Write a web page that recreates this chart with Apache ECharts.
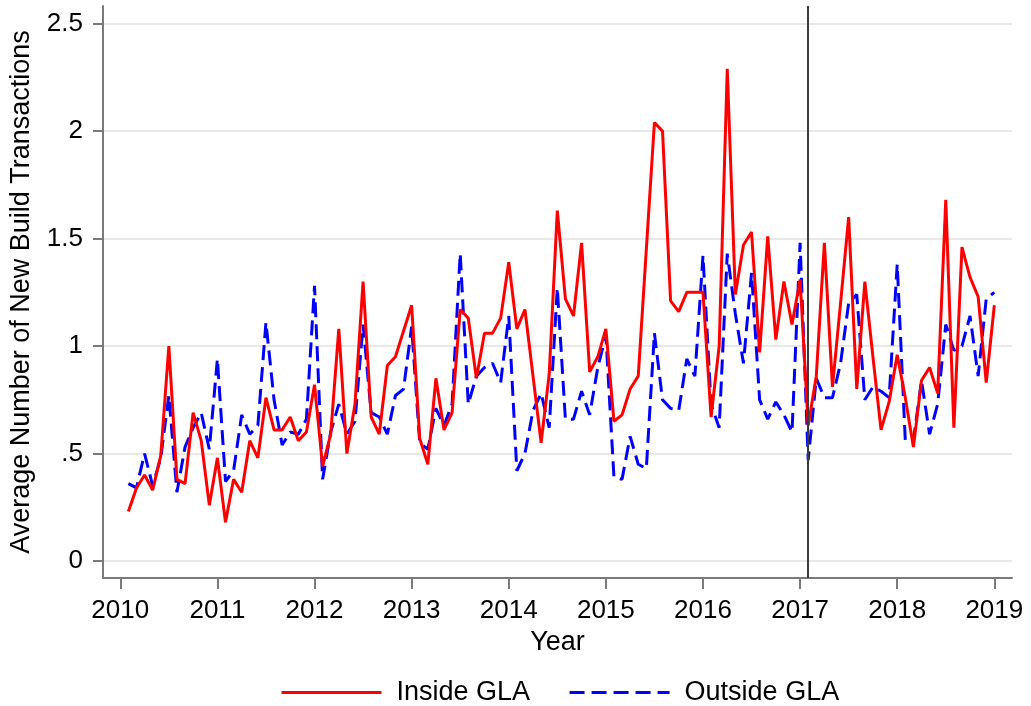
<!DOCTYPE html>
<html>
<head>
<meta charset="utf-8">
<title>New build transactions</title>
<script src="https://cdn.jsdelivr.net/npm/echarts@6/dist/echarts.min.js"></script>
<style>
  html, body { margin: 0; padding: 0; background: #fff; }
  #chart { width: 1031px; height: 706px; }
</style>
</head>
<body>
<div id="chart"></div>
<script>
// monthly series, first month is Feb 2010
const startYear = 2010
const startMonth = 2

const insideGLA = [
  0.23, 0.34, 0.40, 0.33, 0.49, 1.00, 0.38, 0.36, 0.69, 0.56, 0.26,
  0.48, 0.18, 0.38, 0.32, 0.56, 0.48, 0.76, 0.61, 0.61, 0.67, 0.56, 0.60,
  0.82, 0.44, 0.59, 1.08, 0.50, 0.73, 1.30, 0.67, 0.59, 0.91, 0.95, 1.07,
  1.19, 0.57, 0.45, 0.85, 0.61, 0.69, 1.17, 1.13, 0.85, 1.06, 1.06, 1.13,
  1.39, 1.08, 1.17, 0.86, 0.55, 0.87, 1.63, 1.22, 1.14, 1.48, 0.88, 0.95,
  1.08, 0.65, 0.68, 0.80, 0.86, 1.45, 2.04, 2.00, 1.21, 1.16, 1.25, 1.25,
  1.25, 0.67, 1.00, 2.29, 1.24, 1.47, 1.53, 0.97, 1.51, 1.03, 1.30, 1.10,
  1.31, 0.63, 0.86, 1.48, 0.81, 1.20, 1.60, 0.80, 1.30, 0.95, 0.61, 0.74,
  0.96, 0.76, 0.53, 0.84, 0.90, 0.78, 1.68, 0.62, 1.46, 1.32, 1.23, 0.83,
  1.19
]

const outsideGLA = [
  0.36, 0.34, 0.50, 0.35, 0.48, 0.77, 0.32, 0.53, 0.62, 0.69, 0.52,
  0.94, 0.37, 0.42, 0.68, 0.59, 0.63, 1.11, 0.75, 0.54, 0.60, 0.59, 0.66,
  1.28, 0.38, 0.60, 0.73, 0.59, 0.65, 1.10, 0.69, 0.67, 0.59, 0.77, 0.80,
  1.09, 0.55, 0.52, 0.71, 0.63, 0.73, 1.43, 0.73, 0.86, 0.90, 0.92, 0.83,
  1.14, 0.42, 0.50, 0.70, 0.78, 0.62, 1.27, 0.66, 0.66, 0.79, 0.68, 0.90,
  1.05, 0.39, 0.38, 0.58, 0.45, 0.43, 1.06, 0.75, 0.71, 0.70, 0.94, 0.86,
  1.42, 0.73, 0.62, 1.43, 1.15, 0.92, 1.34, 0.75, 0.66, 0.74, 0.68, 0.60,
  1.48, 0.47, 0.85, 0.76, 0.76, 0.92, 1.20, 1.24, 0.75, 0.81, 0.79, 0.76,
  1.38, 0.56, 0.56, 0.84, 0.59, 0.73, 1.10, 0.98, 1.00, 1.14, 0.86, 1.22,
  1.25
]

const yearTicks = [2010, 2011, 2012, 2013, 2014, 2015, 2016, 2017, 2018, 2019]
const valueTicks = [0, 0.5, 1, 1.5, 2, 2.5]
const policyDate = 2017 + 1 / 12 // Feb 2017

// decimal year of each month
const months = insideGLA.map((_, i) => startYear + (startMonth - 1 + i) / 12)

const font = 'Liberation Sans, Arial, sans-serif'
const axisGrey = '#7a7a7a'

const chart = echarts.init(document.getElementById('chart'), null, { renderer: 'canvas' })

chart.setOption({
  animation: false,
  backgroundColor: '#fff',
  grid: { left: 102, right: 19, top: 6, bottom: 128 },
  legend: {
    left: 275,
    top: 674,
    itemWidth: 100,
    itemHeight: 14,
    itemGap: 38,
    itemStyle: { opacity: 0 },
    lineStyle: { width: 3 },
    textStyle: { fontFamily: font, fontSize: 27, color: '#000', padding: [0, 0, 0, 10] },
    data: ['Inside GLA', 'Outside GLA']
  },
  xAxis: {
    type: 'value',
    min: 2009.822,
    max: 2019.182,
    name: 'Year',
    nameLocation: 'middle',
    nameGap: 43,
    nameTextStyle: { fontFamily: font, fontSize: 27, color: '#000' },
    axisLine: { show: true, onZero: false, lineStyle: { color: axisGrey, width: 2 } },
    axisTick: { show: true, length: 11, customValues: yearTicks, lineStyle: { color: axisGrey, width: 2 } },
    axisLabel: {
      customValues: yearTicks,
      margin: 20,
      fontFamily: font,
      fontSize: 26,
      color: '#000',
      formatter: (v) => String(v)
    },
    splitLine: { show: false }
  },
  yAxis: {
    type: 'value',
    min: -0.079,
    max: 2.582,
    name: 'Average Number of New Build Transactions',
    nameLocation: 'middle',
    nameGap: 68,
    nameTextStyle: { fontFamily: font, fontSize: 27, color: '#000' },
    axisLine: { show: true, onZero: false, lineStyle: { color: axisGrey, width: 2 } },
    axisTick: { show: true, length: 10, customValues: valueTicks, lineStyle: { color: axisGrey, width: 2 } },
    axisLabel: {
      customValues: valueTicks,
      margin: 20,
      fontFamily: font,
      fontSize: 26,
      color: '#000',
      formatter: (v) => (v === 0 ? '0' : String(v).replace(/^0\./, '.'))
    },
    splitLine: { show: true, lineStyle: { color: '#e8e8e8', width: 2 } }
  },
  series: [
    {
      name: 'Inside GLA',
      type: 'line',
      symbol: 'none',
      data: months.map((t, i) => [t, insideGLA[i]]),
      lineStyle: { color: '#ff0000', width: 3 },
      itemStyle: { color: '#ff0000' },
      z: 3,
      markLine: {
        silent: true,
        symbol: 'none',
        label: { show: false },
        lineStyle: { color: '#3a3a3a', width: 2, type: 'solid' },
        data: [{ xAxis: policyDate }]
      }
    },
    {
      name: 'Outside GLA',
      type: 'line',
      symbol: 'none',
      data: months.map((t, i) => [t, outsideGLA[i]]),
      lineStyle: { color: '#0000ff', width: 3, type: [15, 7] },
      itemStyle: { color: '#0000ff' },
      z: 2
    }
  ]
})
</script>
</body>
</html>
